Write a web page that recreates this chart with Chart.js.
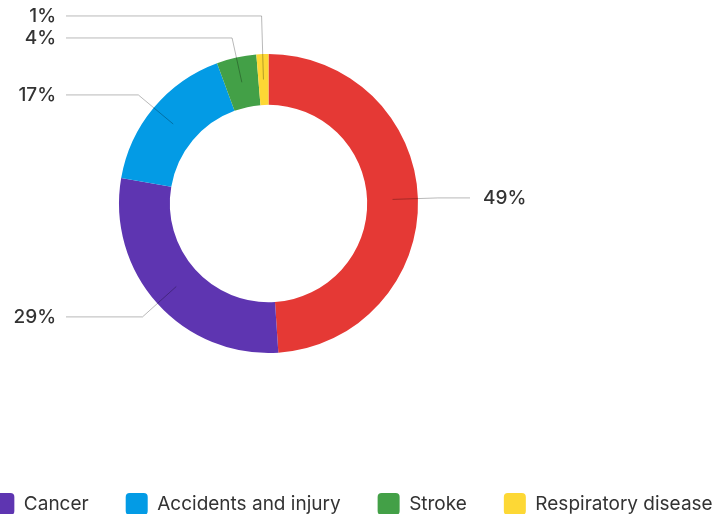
<!DOCTYPE html>
<html>
<head>
<meta charset="utf-8">
<script src="https://cdn.jsdelivr.net/npm/chart.js@4.4.1/dist/chart.umd.min.js"></script>
<style>
  html, body { margin: 0; padding: 0; background: #fff; }
  body { width: 714px; height: 514px; overflow: hidden; position: relative; }
  /* canvas is a bit wider than the page so the legend stays on one row and runs off the edges */
  #causeChart { position: absolute; left: -48px; top: 0; }
</style>
</head>
<body>
<canvas id="causeChart" width="801" height="525"></canvas>
<script>
const categories = ['Heart disease', 'Cancer', 'Accidents and injury', 'Stroke', 'Respiratory disease'];
const shares = [49, 28.8, 16.7, 4.3, 1.3];
const sliceColors = ['#E53935', '#5E35B1', '#039BE5', '#43A047', '#FDD835'];
const total = shares.reduce((a, b) => a + b, 0);
const shareLabels = shares.map(v => Math.round(v / total * 100) + '%');

const FONT = 'Inter, "Noto Sans", sans-serif';

// keeps the donut left of centre while the legend keeps the full width
const placeDonut = {
  id: 'placeDonut',
  afterLayout(chart, args, opts) {
    const a = chart.chartArea;
    a.right = a.left + opts.width;
    a.bottom = a.top + opts.height;
    a.width = opts.width;
    a.height = opts.height;
  }
};

// percentage labels with elbow leader lines
const leaderLines = {
  id: 'leaderLines',
  afterDatasetsDraw(chart) {
    const ctx = chart.ctx;
    const meta = chart.getDatasetMeta(0);
    const items = meta.data.map((arc, i) => {
      const p = arc.getProps(['x', 'y', 'startAngle', 'endAngle', 'innerRadius', 'outerRadius'], true);
      const mid = (p.startAngle + p.endAngle) / 2;
      const rMid = (p.innerRadius + p.outerRadius) / 2;
      const rElbow = p.outerRadius + 20;
      const cos = Math.cos(mid), sin = Math.sin(mid);
      return {
        i, cx: p.x, r: p.outerRadius, right: cos >= 0,
        sx: p.x + cos * rMid, sy: p.y + sin * rMid,
        ex: p.x + cos * rElbow, ey: p.y + sin * rElbow
      };
    });

    // push labels apart, working up from the bottom
    [true, false].forEach(side => {
      const group = items.filter(it => it.right === side).sort((a, b) => b.ey - a.ey);
      for (let k = 1; k < group.length; k++) {
        if (group[k - 1].ey - group[k].ey < 22) group[k].ey = group[k - 1].ey - 22;
      }
    });

    ctx.save();
    ctx.lineWidth = 1;
    ctx.strokeStyle = 'rgba(0,0,0,0.28)';
    ctx.fillStyle = '#333';
    ctx.font = '500 19px ' + FONT;
    ctx.textBaseline = 'middle';
    items.forEach(it => {
      const endX = it.right ? it.cx + it.r + 52 : it.cx - it.r - 53;
      ctx.beginPath();
      ctx.moveTo(it.sx, it.sy);
      ctx.lineTo(it.ex, it.ey);
      ctx.lineTo(endX, it.ey);
      ctx.stroke();
      ctx.textAlign = it.right ? 'left' : 'right';
      ctx.fillText(shareLabels[it.i], it.right ? endX + 13 : endX - 10, it.ey);
    });
    ctx.restore();
  }
};

new Chart(document.getElementById('causeChart'), {
  type: 'doughnut',
  data: {
    labels: categories,
    datasets: [{
      data: shares,
      backgroundColor: sliceColors,
      borderWidth: 0
    }]
  },
  options: {
    responsive: false,
    animation: false,
    cutout: '66%',
    layout: { padding: { top: 54 } },
    plugins: {
      placeDonut: { width: 633, height: 299 },
      tooltip: { enabled: false },
      legend: {
        position: 'bottom',
        labels: {
          filter: item => item.index !== 0,
          boxWidth: 22,
          boxHeight: 22,
          useBorderRadius: true,
          borderRadius: 4,
          padding: 37,
          color: '#333',
          font: { family: FONT, size: 19 }
        }
      }
    }
  },
  plugins: [placeDonut, leaderLines]
});
</script>
</body>
</html>
